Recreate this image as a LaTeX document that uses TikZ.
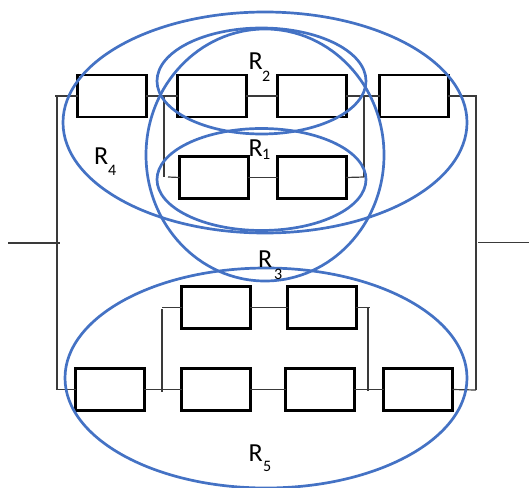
\documentclass[tikz,border=0pt]{standalone}
\usepackage{fontspec}
\setmainfont{Carlito}
\usetikzlibrary{shapes.geometric}
\definecolor{ringblue}{HTML}{4472C4}
\definecolor{wirecol}{HTML}{3A3A3A}
\tikzset{
  res/.style={draw=black,line width=2.6pt,fill=none,rectangle,minimum width=68.5pt,minimum height=42pt,inner sep=0pt,outer sep=0pt},
  wire/.style={draw=wirecol,line width=1.2pt},
  ring/.style={draw=ringblue,line width=2.7pt,ellipse,inner sep=0pt,outer sep=0pt,fill=none},
  lab/.style={inner sep=0pt,anchor=base west,font=\fontsize{26pt}{26pt}\selectfont},
  sublab/.style={inner sep=0pt,anchor=base west,font=\fontsize{16pt}{16pt}\selectfont}
}
\begin{document}
\begin{tikzpicture}[x=1pt,y=-1pt]
\useasboundingbox (0,0) rectangle (529,487);
\begin{scope}
\clip (0,0) rectangle (529,487);
% resistors
\node[res] (a) at (112,96) {};
\node[res] (b) at (212,96) {};
\node[res] (c) at (312,96) {};
\node[res] (d) at (414,96) {};
\node[res] (e) at (214,177.5) {};
\node[res] (f) at (312,177.5) {};
\node[res] (g) at (216,307.5) {};
\node[res] (h) at (322,307.5) {};
\node[res] (i) at (110,389.5) {};
\node[res] (j) at (216,389.5) {};
\node[res] (k) at (320,389.5) {};
\node[res] (l) at (418,389.5) {};
% junctions
\coordinate (inL) at (8,243);
\coordinate (inJ) at (60,243);
\coordinate (outJ) at (478,242.5);
\coordinate (outR) at (529,242.5);
\coordinate (lt) at (55,96);
\coordinate (ltv) at (57,96);
\coordinate (lbv) at (57,390);
\coordinate (rt) at (477,96);
\coordinate (rtv) at (476,96);
\coordinate (rbv) at (476,390);
\coordinate (j1t) at (164,96);
\coordinate (j1b) at (164,177);
\coordinate (j1s) at (168,177);
\coordinate (j2t) at (364,96);
\coordinate (j2b) at (364,177);
\coordinate (j3t) at (162,309);
\coordinate (j3b) at (162,392);
\coordinate (j3s) at (162,307.5);
\coordinate (j4t) at (368,307.5);
\coordinate (j4b) at (368,391);
\coordinate (j4s) at (370,307.5);
\coordinate (lb) at (56,389.5);
% wires
\draw[wire] (inL) -- (inJ);
\draw[wire] (outJ) -- (outR);
\draw[wire] (ltv) -- (lbv);
\draw[wire] (rtv) -- (rbv);
\draw[wire] (lt) -- (a.west);
\draw[wire] (a.east) -- (b.west);
\draw[wire] (b.east) -- (c.west);
\draw[wire] (c.east) -- (d.west);
\draw[wire] (d.east) -- (rt);
\draw[wire] (j1t) -- (j1b);
\draw[wire] (j1s) -- (e.west);
\draw[wire] (e.east) -- (f.west);
\draw[wire] (f.east) -- (j2b);
\draw[wire] (j2t) -- (j2b);
\draw[wire] (lb) -- (i.west);
\draw[wire] (i.east) -- (j.west);
\draw[wire] (j.east) -- (k.west);
\draw[wire] (k.east) -- (l.west);
\draw[wire] (l.east) -- (rbv);
\draw[wire] (j3t) -- (j3b);
\draw[wire] (j3s) -- (g.west);
\draw[wire] (g.east) -- (h.west);
\draw[wire] (h.east) -- (j4s);
\draw[wire] (j4t) -- (j4b);
% rings
\node[ring,minimum width=404pt,minimum height=221pt] (r4) at (265,122.5) {};
\node[ring,minimum width=209pt,minimum height=106pt] (r2) at (261.5,81) {};
\node[ring,minimum width=238pt,minimum height=252pt] (r3) at (265,155) {};
\node[ring,minimum width=209pt,minimum height=102pt] (r1) at (261.5,179.5) {};
\node[ring,minimum width=402pt,minimum height=220pt] (r5) at (266,378) {};
\end{scope}
% labels
\node[lab] (l2) at (248.5,69) {R};
\node[sublab] (s2) at (262,81) {2};
\node[lab] (l1) at (248.5,156) {R};
\node[sublab] (s1) at (262,159) {1};
\node[lab] (l3) at (258,267) {R};
\node[sublab] (s3) at (274,279) {3};
\node[lab] (l4) at (94,164) {R};
\node[sublab] (s4) at (108,175) {4};
\node[lab] (l5) at (248.5,461) {R};
\node[sublab] (s5) at (263,471) {5};
\end{tikzpicture}
\end{document}
